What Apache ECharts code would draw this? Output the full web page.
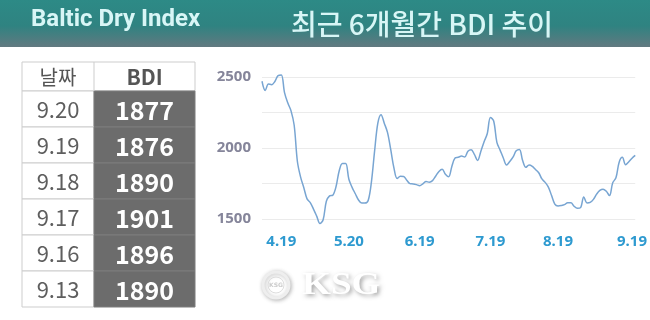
<!DOCTYPE html>
<html>
<head>
<meta charset="utf-8">
<script src="https://cdn.jsdelivr.net/npm/echarts@6/dist/echarts.min.js"></script>
<style>
html,body{margin:0;padding:0;background:#fff;}
#c{width:650px;height:320px;}
</style>
</head>
<body>
<div id="c"></div>
<script>
// ---- data ----
var titleLeft = 'Baltic Dry Index';
var titleRight = '최근 6개월간 BDI 추이';
var tableHead = ['날짜', 'BDI'];
var tableDates = ['9.20', '9.19', '9.18', '9.17', '9.16', '9.13'];
var tableValues = [1877, 1876, 1890, 1901, 1896, 1890];

var datesApr = ['4.11','4.12','4.15','4.16','4.17','4.18','4.19','4.22','4.23','4.24','4.25','4.26','4.29','4.30'];
var datesMay = ['5.1','5.2','5.3','5.6','5.7','5.8','5.9','5.10','5.13','5.14','5.15','5.16','5.17','5.20','5.21','5.22','5.23','5.24','5.27','5.28','5.29','5.30','5.31'];
var datesJun = ['6.3','6.4','6.5','6.6','6.7','6.10','6.11','6.12','6.13','6.14','6.17','6.18','6.19','6.20','6.21','6.24','6.25','6.26','6.27','6.28'];
var datesJul = ['7.1','7.2','7.3','7.4','7.5','7.8','7.9','7.10','7.11','7.12','7.15','7.16','7.17','7.18','7.19','7.22','7.23','7.24','7.25','7.26','7.29','7.30','7.31'];
var datesAug = ['8.1','8.2','8.5','8.6','8.7','8.8','8.9','8.12','8.13','8.14','8.15','8.16','8.19','8.20','8.21','8.22','8.23','8.26','8.27','8.28','8.29','8.30'];
var datesSep = ['9.2','9.3','9.4','9.5','9.6','9.9','9.10','9.11','9.12','9.13','9.16','9.17','9.18','9.19','9.20'];

var bdiApr = [2470,2405,2450,2446,2468,2510,2514,2390,2318,2263,2160,1905,1795,1720];
var bdiMay = [1642,1615,1570,1520,1468,1495,1625,1663,1668,1727,1840,1890,1890,1780,1723,1678,1634,1612,1612,1630,1760,1980,2175];
var bdiJun = [2235,2175,2110,1990,1860,1785,1801,1800,1773,1749,1747,1742,1735,1748,1764,1759,1770,1803,1835,1850];
var bdiJul = [1815,1797,1870,1930,1935,1943,1937,1977,1987,1955,1912,1975,2043,2100,2215,2190,2040,1985,1930,1880,1905,1935,1980];
var bdiAug = [1990,1912,1864,1880,1871,1849,1826,1782,1758,1725,1665,1605,1592,1595,1601,1615,1615,1590,1575,1580,1655,1613];
var bdiSep = [1617,1638,1675,1701,1710,1695,1665,1755,1790,1900,1934,1882,1903,1928,1948];

var xTickLabels = ['4.19','5.20','6.19','7.19','8.19','9.19'];
var yTickLabels = [1500, 2000, 2500];

var categories = [].concat(datesApr, datesMay, datesJun, datesJul, datesAug, datesSep);
var values = [].concat(bdiApr, bdiMay, bdiJun, bdiJul, bdiAug, bdiSep);

// ---- graphics (header, table, watermark) ----
var graphics = [];
graphics.push({
  type: 'rect', left: 0, top: 0, z: 0,
  shape: { width: 650, height: 47 },
  style: { fill: new echarts.graphic.LinearGradient(0, 0, 0, 1, [
    { offset: 0, color: '#2d8a86' },
    { offset: 0.55, color: '#2f8381' },
    { offset: 1, color: '#627980' }
  ]) }
});
graphics.push({
  type: 'text', left: 31, top: 8, z: 5,
  style: { text: titleLeft, fill: '#d8f6f6', font: 'bold 24px Roboto, "Noto Sans", sans-serif' }
});
graphics.push({
  type: 'text', x: 422, y: 24, z: 5,
  style: { text: titleRight, fill: '#d8f6f6', font: '500 28px "Noto Sans CJK KR", sans-serif', align: 'center', verticalAlign: 'middle' }
});

// table
var tX0 = 22, tX1 = 94, tX2 = 195, tY0 = 62, headH = 29, rowH = 36;
var tblBorder = '#cdcdcd';
graphics.push({ type: 'rect', z: 2, shape: { x: tX0, y: tY0, width: tX2 - tX0, height: headH }, style: { fill: '#fff', stroke: tblBorder, lineWidth: 1 } });
graphics.push({ type: 'line', z: 3, shape: { x1: tX1, y1: tY0, x2: tX1, y2: tY0 + headH }, style: { stroke: tblBorder, lineWidth: 1 } });
graphics.push({ type: 'text', z: 4, x: (tX0 + tX1) / 2, y: tY0 + headH / 2 + 1, style: { text: tableHead[0], fill: '#555', font: '20px "Noto Sans CJK KR", sans-serif', align: 'center', verticalAlign: 'middle' } });
graphics.push({ type: 'text', z: 4, x: (tX1 + tX2) / 2, y: tY0 + headH / 2 + 1, style: { text: tableHead[1], fill: '#555', font: 'bold 21px "Noto Sans CJK KR", sans-serif', align: 'center', verticalAlign: 'middle' } });
for (var i = 0; i < tableDates.length; i++) {
  var ry = tY0 + headH + i * rowH;
  graphics.push({ type: 'rect', z: 2, shape: { x: tX0, y: ry, width: tX1 - tX0, height: rowH }, style: { fill: '#fff', stroke: tblBorder, lineWidth: 1 } });
  graphics.push({ type: 'rect', z: 2, shape: { x: tX1, y: ry, width: tX2 - tX1, height: rowH }, style: { fill: '#6c6c6c', stroke: '#7c7c7c', lineWidth: 1 } });
  graphics.push({ type: 'text', z: 4, x: (tX0 + tX1) / 2, y: ry + rowH / 2 + 1, style: { text: tableDates[i], fill: '#5e5e5e', font: '22px "Noto Sans CJK KR", sans-serif', align: 'center', verticalAlign: 'middle' } });
  graphics.push({ type: 'text', z: 4, x: (tX1 + tX2) / 2, y: ry + rowH / 2 + 1, style: { text: String(tableValues[i]), fill: '#ffffff', font: 'bold 25px "Noto Sans CJK KR", sans-serif', align: 'center', verticalAlign: 'middle' } });
}

// watermark
graphics.push({ type: 'circle', z: 5, shape: { cx: 276, cy: 285, r: 13 },
  style: { fill: '#ffffff', stroke: '#eeeeee', lineWidth: 3, shadowBlur: 4, shadowColor: 'rgba(0,0,0,0.25)', shadowOffsetX: 1, shadowOffsetY: 1 } });
graphics.push({ type: 'circle', z: 6, shape: { cx: 276, cy: 285, r: 8 },
  style: { fill: 'none', stroke: '#dddddd', lineWidth: 1 } });
graphics.push({ type: 'text', z: 7, x: 276, y: 285, style: { text: 'KSG', fill: '#cccccc', font: 'bold 6px "DejaVu Sans", sans-serif', align: 'center', verticalAlign: 'middle' } });
graphics.push({ type: 'text', z: 5, x: 302, y: 286, scaleX: 1.2, originX: 0, originY: 0,
  style: { text: 'KSG', fill: '#ffffff', font: 'bold 31px "Liberation Serif", serif', verticalAlign: 'middle',
    textShadowColor: 'rgba(0,0,0,0.35)', textShadowBlur: 4, textShadowOffsetX: 2, textShadowOffsetY: 2 } });

var chart = echarts.init(document.getElementById('c'), null, { renderer: 'canvas' });
chart.setOption({
  animation: false,
  backgroundColor: '#ffffff',
  graphic: graphics,
  grid: { left: 262, right: 13, top: 77, bottom: 101 },
  xAxis: {
    type: 'category',
    data: categories,
    boundaryGap: false,
    axisLine: { show: false },
    axisTick: { show: false },
    splitLine: { show: false },
    axisLabel: {
      interval: function (idx, val) { return xTickLabels.indexOf(val) >= 0; },
      color: '#2e9ad0', fontSize: 15, fontWeight: 'bold', margin: 15,
      fontFamily: '"Noto Sans", sans-serif'
    }
  },
  yAxis: {
    type: 'value',
    min: 1500, max: 2500, interval: 250,
    axisLine: { show: false },
    axisTick: { show: false },
    splitLine: { lineStyle: { color: '#ebebeb', width: 1 } },
    axisLabel: {
      formatter: function (v) { return yTickLabels.indexOf(v) >= 0 ? String(v) : ''; },
      color: '#85859a', fontSize: 15, fontWeight: 'bold', margin: 11,
      fontFamily: '"Noto Sans", sans-serif'
    }
  },
  series: [{
    type: 'line',
    data: values,
    smooth: 0.35,
    clip: false,
    symbol: 'none',
    lineStyle: { color: '#78a5d2', width: 1.5 }
  }]
});
</script>
</body>
</html>
